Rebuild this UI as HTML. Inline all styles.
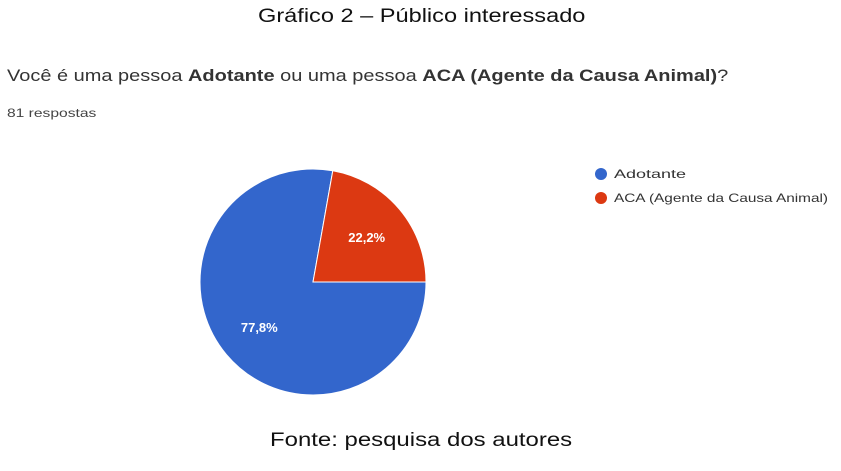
<!DOCTYPE html>
<html><head><meta charset="utf-8"><style>
body{margin:0;background:#fff;width:841px;height:471px;overflow:hidden;font-family:"Liberation Sans",sans-serif;position:relative}
.t{position:absolute;white-space:nowrap;transform-origin:0 0}
</style></head><body>
<div class="t" style="left:258px;top:6px;font-size:19px;color:#111;transform:scaleX(1.24)">Gráfico 2 – Público interessado</div>
<div class="t" style="left:7px;top:66px;font-size:17px;color:#333;transform:scaleX(1.175)">Você é uma pessoa <b>Adotante</b> ou uma pessoa <b>ACA (Agente da Causa Animal)</b>?</div>
<div class="t" style="left:7px;top:106px;font-size:12px;color:#444;transform:scaleX(1.3)">81 respostas</div>
<svg id="c" width="841" height="471" style="position:absolute;left:0;top:0"></svg>
<div class="t" style="left:270px;top:430px;font-size:19px;color:#111;transform:scaleX(1.26)">Fonte: pesquisa dos autores</div>
<script>
const labels=["Adotante","ACA (Agente da Causa Animal)"];
const values=[77.8,22.2];
const colors=["#3366cc","#dc3912"];
const svg=document.getElementById('c');const NS="http://www.w3.org/2000/svg";
const cx=313,cy=282,r=113;
let total=values.reduce((a,b)=>a+b,0);
let a0=90;
function pt(a,rr){const t=(a-90)*Math.PI/180;return [cx+rr*Math.cos(t),cy+rr*Math.sin(t)];}
values.forEach((v,i)=>{
 const sweep=v/total*360,a1=a0+sweep;
 const p0=pt(a0,r),p1=pt(a1,r);
 const p=document.createElementNS(NS,'path');
 p.setAttribute('d',`M${cx},${cy}L${p0[0]},${p0[1]}A${r},${r} 0 ${sweep>180?1:0} 1 ${p1[0]},${p1[1]}Z`);
 p.setAttribute('fill',colors[i]);p.setAttribute('stroke','#fff');p.setAttribute('stroke-width','1');
 
 
 svg.appendChild(p);
 const m=pt(a0+sweep/2,r*0.62);
 const tx=document.createElementNS(NS,'text');
 tx.setAttribute('x',m[0]);tx.setAttribute('y',m[1]+5);tx.setAttribute('text-anchor','middle');
 tx.setAttribute('fill','#fff');tx.setAttribute('font-size','13');tx.setAttribute('font-weight','bold');tx.setAttribute('font-family','Liberation Sans,sans-serif');
 tx.textContent=v.toFixed(1).replace('.',',')+'%';
 
 
 svg.appendChild(tx);
 const c=document.createElementNS(NS,'circle');
 c.setAttribute('cx',601);c.setAttribute('cy',174+i*24);c.setAttribute('r',6);c.setAttribute('fill',colors[i]);
 
 
 svg.appendChild(c);
 const lt=document.createElementNS(NS,'text');
 lt.setAttribute('x',614);lt.setAttribute('y',178+i*24);lt.setAttribute('font-size','12');lt.setAttribute('fill','#333');lt.setAttribute('font-family','Liberation Sans,sans-serif');
 lt.setAttribute('textLength',i==0?72:214);lt.setAttribute('lengthAdjust','spacingAndGlyphs');
 lt.textContent=labels[i];
 
 
 svg.appendChild(lt);
 a0=a1;
});
</script>
</body></html>
